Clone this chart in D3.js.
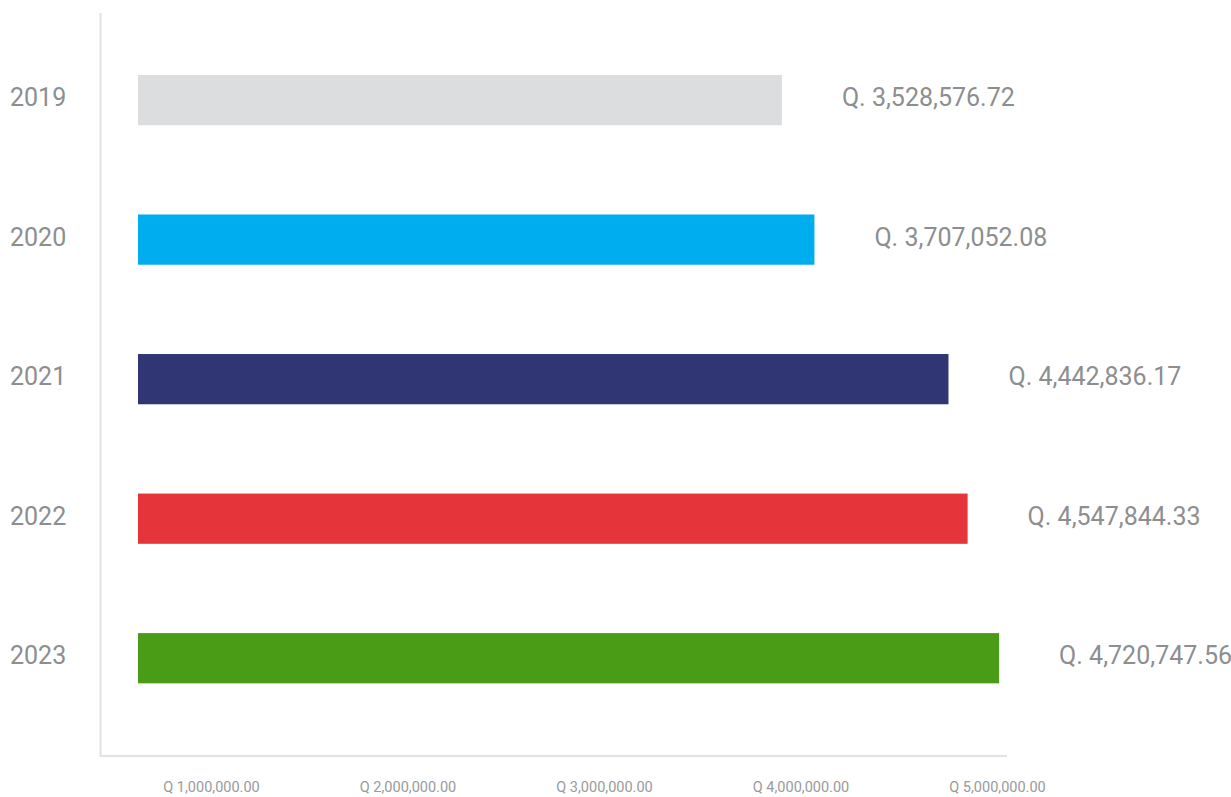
<!DOCTYPE html>
<html>
<head>
<meta charset="utf-8">
<script src="https://cdn.jsdelivr.net/npm/d3@7"></script>
<style>
	body { margin: 0; background: #fff; }
	text { font-family: Roboto, "Noto Sans", sans-serif; }
</style>
</head>
<body>
<div id="wrapper"></div>
<script>
/*step 1: data*/
const years = ["2019", "2020", "2021", "2022", "2023"];
const amounts = [3528576.72, 3707052.08, 4442836.17, 4547844.33, 4720747.56];
const barColors = ["#dcdddf", "#00aeef", "#303673", "#e6343b", "#4a9b15"];
const tickValues = [1000000, 2000000, 3000000, 4000000, 5000000];

const dataset = years.map(function(y, i) {
	return { year: y, amount: amounts[i], color: barColors[i] };
});

/*step 2: dimensions*/
let dimensions = {
	width: 1231,
	height: 797,
	axisX: 100.5,
	axisTop: 13,
	axisBottom: 756,
	axisRight: 1007,
}

const wrapper = d3.select("#wrapper")
	.append("svg")
	.attr("width", dimensions.width)
	.attr("height", dimensions.height);

/*step 3: scales*/
const xScale = d3.scaleLinear()
	.domain([0, 5000000])
	.range([139, 1050]);

// the tick labels in the original don't line up with the bars, so they get their own scale
const tickScale = d3.scaleLinear()
	.domain([1000000, 5000000])
	.range([211, 997]);

const yScale = d3.scaleBand()
	.domain(years)
	.range([30.3, 728])
	.paddingInner(0.64)
	.paddingOuter(0.32);

const qFormat = d3.format(",.2f");

/*step 4: axis lines*/
wrapper.append("path")
	.attr("d", "M" + dimensions.axisX + "," + dimensions.axisTop +
		"V" + dimensions.axisBottom + "H" + dimensions.axisRight)
	.attr("fill", "none")
	.attr("stroke", "#e2e2e2")
	.attr("stroke-width", 2);

/*step 5: bars*/
wrapper.selectAll("rect.bar")
	.data(dataset)
	.enter().append("rect")
	.attr("class", "bar")
	.attr("x", 138)
	.attr("y", function(d) { return yScale(d.year); })
	.attr("width", function(d) { return xScale(d.amount) - 138; })
	.attr("height", yScale.bandwidth())
	.attr("fill", function(d) { return d.color; });

/*step 6: labels*/
wrapper.selectAll("text.year")
	.data(dataset)
	.enter().append("text")
	.attr("class", "year")
	.attr("x", 10)
	.attr("y", function(d) { return yScale(d.year) + yScale.bandwidth() / 2 + 6; })
	.attr("fill", "#8c8e90")
	.style("font-size", "25px")
	.text(function(d) { return d.year; });

wrapper.selectAll("text.value")
	.data(dataset)
	.enter().append("text")
	.attr("class", "value")
	.attr("x", function(d) { return xScale(d.amount) + 60; })
	.attr("y", function(d) { return yScale(d.year) + yScale.bandwidth() / 2 + 6; })
	.attr("fill", "#8c8e90")
	.style("font-size", "25px")
	.text(function(d) { return "Q. " + qFormat(d.amount); });

const xAxisGenerator = d3.axisBottom(tickScale)
	.tickValues(tickValues)
	.tickSize(0)
	.tickPadding(0)
	.tickFormat(function(d) { return "Q " + qFormat(d); });

const xAxis = wrapper.append("g")
	.attr("transform", "translate(0, 782)")
	.call(xAxisGenerator);
xAxis.select(".domain").remove();
xAxis.selectAll("text")
	.attr("fill", "#999a9c")
	.attr("dy", "0.71em")
	.style("font-size", "14.5px")
	.style("font-family", "Roboto, sans-serif");
</script>
</body>
</html>
